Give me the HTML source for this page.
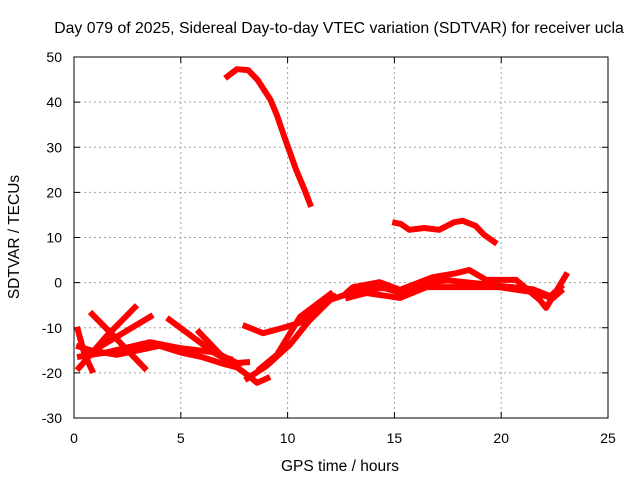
<!DOCTYPE html>
<html><head><meta charset="utf-8"><style>
body{margin:0;background:#fff}
svg{display:block;font-family:"Liberation Sans",sans-serif}
</style></head><body>
<svg id="chart" width="640" height="480">
<text x="339" y="33" text-anchor="middle" font-size="15.8">Day 079 of 2025, Sidereal Day-to-day VTEC variation (SDTVAR) for receiver ucla</text>
<text x="340" y="471" text-anchor="middle" font-size="15.5">GPS time / hours</text>
<text transform="translate(19,237) rotate(-90)" text-anchor="middle" font-size="15.5">SDTVAR / TECUs</text>
<g id="grid"></g><g id="ticks"></g><g id="series"></g>
<rect x="74" y="57" width="534" height="361" fill="none" stroke="#000" stroke-width="1"/>
</svg>
<script>
const xTicks=[0,5,10,15,20,25];
const yTicks=[-30,-20,-10,0,10,20,30,40,50];
const s1=[[7.07,45.3],[7.63,47.3],[8.15,47.1],[8.6,44.9],[9.2,40.5],[9.5,37.1],[9.9,31.6],[10.4,25],[10.8,20.5],[11.1,16.8]];
const s2=[[14.9,13.4],[15.3,13],[15.7,11.7],[16.4,12.1],[17.1,11.7],[17.8,13.4],[18.2,13.7],[18.8,12.6],[19.2,10.6],[19.8,8.6]];
const s3=[[0.14,-19.4],[1.5,-12],[2.95,-5]];
const s4=[[0.75,-6.5],[2,-12.5],[3.4,-19.4]];
const s5=[[0.4,-16.5],[2,-12],[3.7,-7.2]];
const s6=[[0.14,-9.8],[0.5,-16],[0.9,-20]];
const s7=[[0.14,-16.5],[1.5,-15.5],[3.56,-13.2],[4.96,-14.5],[6.5,-15.4],[7.16,-17.1],[8.24,-20.9],[8.57,-22.2],[9.18,-20.9]];
const s8=[[8.0,-21.6],[9.0,-18.5],[10.1,-13.8],[11,-8.5],[12,-3.8],[12.7,-2.7]];
const s9=[[8.6,-19.5],[9.5,-16],[10.58,-7.6],[12.12,-2.1]];
const s10=[[7.9,-9.4],[8.85,-11.2],[9.8,-10],[10.7,-8.7],[12.3,-2.7]];
const s11=[[4.35,-7.8],[6.37,-14.9],[7.63,-17.8],[8.24,-17.6]];
const s12=[[5.76,-10.5],[6.97,-16.5],[7.44,-17.1]];
const s13=[[12.7,-2.5],[13.06,-1],[14.3,0.1],[15.26,-1.6],[16.8,1.2],[17.9,2.1],[18.5,2.8],[19.3,0.6],[20.7,0.6],[21.8,-3.8],[22.1,-5.6],[23.1,2.2]];
const s14=[[12.7,-3.5],[13.7,-2.3],[15.26,-3.4],[16.5,-1],[18.4,-1],[19.9,-1],[21.5,-2.1],[22.4,-3.5],[22.9,-1.5]];
const s15=[[12.5,-3],[13.5,-1.5],[14.5,-1.2],[15.5,-2.5],[16.5,0],[17.5,0.5],[18.5,0],[19.5,-0.5],[20.5,-1],[21.5,-1.5],[22.3,-3],[22.9,-0.5]];
const s16=[[0.1,-14],[0.8,-15],[2,-16],[3,-15],[4,-14],[5,-15.5],[6,-16.5],[7,-18],[7.8,-19]];
const allSeries=[s1,s2,s3,s4,s5,s6,s7,s8,s9,s10,s11,s12,s13,s14,s15,s16];
const X=h=>74+h*534/25, Y=v=>418-(v+30)*361/80;
const NS="http://www.w3.org/2000/svg";
const grid=document.getElementById('grid'),ticks=document.getElementById('ticks'),ser=document.getElementById('series');
function mk(tag,at,p){const e=document.createElementNS(NS,tag);for(const k in at)e.setAttribute(k,at[k]);p.appendChild(e);return e;}
xTicks.forEach(t=>{const x=X(t);
 if(t>0&&t<25){const g=mk('line',{x1:x,x2:x,y1:57,y2:418,stroke:'#a0a0a0','stroke-dasharray':'2,3'},grid);
 
 }
 mk('line',{x1:x,x2:x,y1:418,y2:412,stroke:'#000'},ticks);mk('line',{x1:x,x2:x,y1:57,y2:63,stroke:'#000'},ticks);
 const tx=mk('text',{x:x,y:443,'text-anchor':'middle','font-size':14},ticks);tx.textContent=t;
 
 });
yTicks.forEach(t=>{const y=Y(t);
 if(t>-30&&t<50){const g=mk('line',{x1:74,x2:608,y1:y,y2:y,stroke:'#a0a0a0','stroke-dasharray':'2,3'},grid);
 
 }
 mk('line',{x1:74,x2:80,y1:y,y2:y,stroke:'#000'},ticks);mk('line',{x1:608,x2:602,y1:y,y2:y,stroke:'#000'},ticks);
 const tx=mk('text',{x:62,y:y+5,'text-anchor':'end','font-size':14},ticks);tx.textContent=t;
 
 });
allSeries.forEach((s,i)=>{const p=mk('polyline',{points:s.map(d=>X(d[0])+','+Y(d[1])).join(' '),fill:'none',stroke:'#ff0000','stroke-width':6,'stroke-linejoin':'round'},ser);
 
 });
</script>
</body></html>
